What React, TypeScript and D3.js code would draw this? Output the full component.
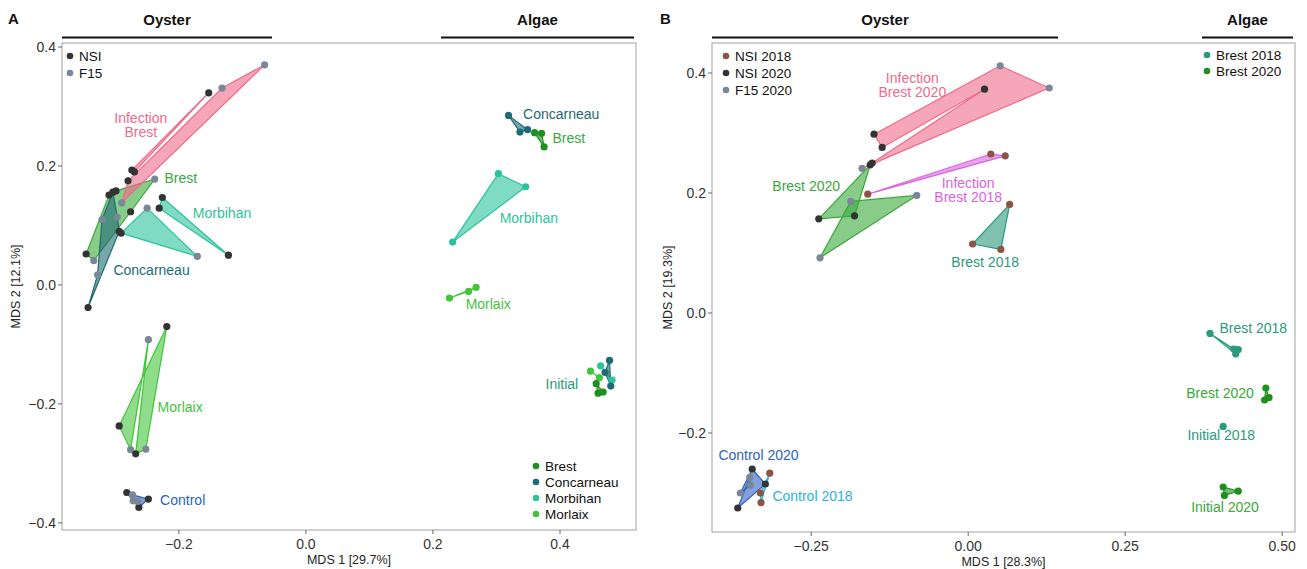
import React from "react";
import * as d3 from "d3";

// ---------- colours ----------
const C = {
  infection: "#f06a8a",
  infection18: "#d963e0",
  brest: "#3aa83a",
  brestAlgae: "#1f901f",
  brest18: "#2a9a7c",
  concarneau: "#1e6b73",
  morbihan: "#2cc39c",
  morlaix: "#44c43c",
  control: "#2e5fc0",
  control18: "#29b3dd",
  NSI: "#333333",
  F15: "#7a8896",
  NSI18: "#8a5545",
};

// ---------- Panel A data: [MDS1, MDS2, point type] ----------
const aInfectionBrest1 = [[-0.274, 0.193, "NSI"], [-0.153, 0.323, "NSI"], [-0.27, 0.19, "NSI"]];
const aInfectionBrest2 = [
  [-0.28, 0.175, "NSI"], [-0.132, 0.331, "F15"], [-0.065, 0.37, "F15"], [-0.29, 0.138, "F15"],
];
const aBrestOyster = [
  [-0.238, 0.178, "F15"], [-0.299, 0.158, "NSI"], [-0.31, 0.151, "NSI"],
  [-0.346, 0.052, "NSI"], [-0.334, 0.041, "F15"], [-0.276, 0.123, "NSI"],
];
const aConcarneauOyster = [
  [-0.343, -0.038, "NSI"], [-0.328, 0.017, "F15"], [-0.321, 0.11, "F15"],
  [-0.304, 0.156, "NSI"], [-0.297, 0.114, "F15"], [-0.294, 0.09, "NSI"],
];
const aMorbihanOyster1 = [[-0.25, 0.129, "F15"], [-0.171, 0.048, "F15"], [-0.291, 0.087, "NSI"]];
const aMorbihanOyster2 = [[-0.226, 0.147, "NSI"], [-0.231, 0.129, "NSI"], [-0.122, 0.05, "NSI"]];
const aMorlaixOyster = [
  [-0.219, -0.07, "NSI"], [-0.294, -0.237, "NSI"], [-0.276, -0.277, "F15"],
  [-0.248, -0.092, "F15"], [-0.268, -0.284, "NSI"], [-0.252, -0.276, "F15"],
];
const aControl = [
  [-0.282, -0.349, "NSI"], [-0.273, -0.353, "F15"], [-0.248, -0.36, "NSI"],
  [-0.263, -0.374, "NSI"], [-0.265, -0.364, "F15"], [-0.272, -0.363, "F15"],
];
const aConcarneauAlgae = [[0.319, 0.285, ""], [0.337, 0.257, ""], [0.349, 0.261, ""]];
const aBrestAlgae = [[0.36, 0.256, ""], [0.371, 0.255, ""], [0.375, 0.232, ""]];
const aMorbihanAlgae = [[0.303, 0.187, ""], [0.346, 0.165, ""], [0.231, 0.072, ""]];
const aMorlaixAlgae = [[0.226, -0.022, ""], [0.256, -0.011, ""], [0.268, -0.004, ""]];
const aInitConcarneau = [[0.478, -0.127, ""], [0.471, -0.147, ""], [0.48, -0.17, ""]];
const aInitMorbihan = [[0.464, -0.136, ""], [0.482, -0.16, ""]];
const aInitMorlaix = [[0.448, -0.145, ""], [0.462, -0.156, ""]];
const aInitBrest = [[0.457, -0.166, ""], [0.46, -0.182, ""], [0.468, -0.18, ""]];

// ---------- Panel B data ----------
const bInfection2020 = [
  [-0.15, 0.298, "NSI"], [0.051, 0.412, "F15"], [0.129, 0.375, "F15"],
  [-0.169, 0.241, "F15"], [-0.153, 0.25, "NSI"], [0.026, 0.373, "NSI"], [-0.137, 0.276, "NSI"],
];
const bInfection2018 = [[-0.16, 0.198, "NSI18"], [0.036, 0.265, "NSI18"], [0.059, 0.262, "NSI18"]];
const bBrest2020a = [[-0.238, 0.157, "NSI"], [-0.156, 0.247, "NSI"], [-0.181, 0.162, "NSI"]];
const bBrest2020b = [[-0.187, 0.186, "F15"], [-0.082, 0.196, "F15"], [-0.236, 0.092, "F15"]];
const bBrest2018 = [[0.066, 0.181, "NSI18"], [0.007, 0.115, "NSI18"], [0.052, 0.106, "NSI18"]];
const bControl2020 = [
  [-0.344, -0.26, "NSI"], [-0.323, -0.285, "NSI"], [-0.367, -0.325, "NSI"],
  [-0.348, -0.274, "F15"], [-0.347, -0.287, "F15"], [-0.363, -0.3, "F15"],
];
const bControl2018 = [[-0.316, -0.267, "NSI18"], [-0.331, -0.3, "NSI18"], [-0.33, -0.316, "NSI18"]];
const bBrest2018Algae = [[0.385, -0.034, ""], [0.423, -0.06, ""], [0.43, -0.061, ""], [0.426, -0.068, ""]];
const bBrest2020Algae = [[0.474, -0.125, ""], [0.479, -0.141, ""], [0.472, -0.145, ""]];
const bInitial2018 = [[0.406, -0.189, ""]];
const bInitial2020 = [[0.406, -0.29, ""], [0.43, -0.297, ""], [0.408, -0.304, ""]];

// ---------- labels: [text, x, y, colour] ----------
const aLabels = [
  ["Infection", -0.26, 0.281, C.infection], ["Brest", -0.26, 0.257, C.infection],
  ["Brest", -0.197, 0.18, C.brest], ["Morbihan", -0.132, 0.121, C.morbihan],
  ["Concarneau", -0.243, 0.025, C.concarneau], ["Morlaix", -0.198, -0.205, C.morlaix],
  ["Control", -0.194, -0.361, C.control], ["Concarneau", 0.402, 0.287, C.concarneau],
  ["Brest", 0.414, 0.247, C.brest], ["Morbihan", 0.351, 0.113, C.morbihan],
  ["Morlaix", 0.287, -0.032, C.morlaix], ["Initial", 0.403, -0.166, C.brest18],
];
const bLabels = [
  ["Infection", -0.089, 0.392, C.infection], ["Brest 2020", -0.089, 0.368, C.infection],
  ["Infection", 0.0, 0.217, C.infection18], ["Brest 2018", 0.0, 0.193, C.infection18],
  ["Brest 2020", -0.258, 0.212, C.brest], ["Brest 2018", 0.027, 0.085, C.brest18],
  ["Control 2020", -0.334, -0.237, C.control], ["Control 2018", -0.248, -0.305, C.control18],
  ["Brest 2018", 0.454, -0.025, C.brest18], ["Brest 2020", 0.401, -0.133, C.brest],
  ["Initial 2018", 0.403, -0.203, C.brest18], ["Initial 2020", 0.409, -0.323, C.brest],
];

const aXTicks = [-0.2, 0.0, 0.2, 0.4];
const aYTicks = [-0.4, -0.2, 0.0, 0.2, 0.4];
const bXTicks = [-0.25, 0.0, 0.25, 0.5];
const bYTicks = [-0.2, 0.0, 0.2, 0.4];

const aTypeLegend = [["NSI", C.NSI], ["F15", C.F15]];
const aSiteLegend = [["Brest", C.brestAlgae], ["Concarneau", C.concarneau], ["Morbihan", C.morbihan], ["Morlaix", C.morlaix]];
const bTypeLegend = [["NSI 2018", C.NSI18], ["NSI 2020", C.NSI], ["F15 2020", C.F15]];
const bSiteLegend = [["Brest 2018", C.brest18], ["Brest 2020", C.brestAlgae]];

type Pt = (number | string)[];
type Group = { pts: Pt[]; color: string };

const aGroups: Group[] = [
  { pts: aBrestOyster, color: C.brest },
  { pts: aConcarneauOyster, color: C.concarneau },
  { pts: aMorbihanOyster1, color: C.morbihan },
  { pts: aMorbihanOyster2, color: C.morbihan },
  { pts: aMorlaixOyster, color: C.morlaix },
  { pts: aInfectionBrest1, color: C.infection },
  { pts: aInfectionBrest2, color: C.infection },
  { pts: aControl, color: C.control },
  { pts: aConcarneauAlgae, color: C.concarneau },
  { pts: aBrestAlgae, color: C.brestAlgae },
  { pts: aMorbihanAlgae, color: C.morbihan },
  { pts: aMorlaixAlgae, color: C.morlaix },
  { pts: aInitMorbihan, color: C.morbihan },
  { pts: aInitConcarneau, color: C.concarneau },
  { pts: aInitMorlaix, color: C.morlaix },
  { pts: aInitBrest, color: C.brestAlgae },
];
const bGroups: Group[] = [
  { pts: bBrest2020a, color: C.brest },
  { pts: bBrest2020b, color: C.brest },
  { pts: bInfection2020, color: C.infection },
  { pts: bInfection2018, color: C.infection18 },
  { pts: bBrest2018, color: C.brest18 },
  { pts: bControl2020, color: C.control },
  { pts: bControl2018, color: C.control18 },
  { pts: bBrest2018Algae, color: C.brest18 },
  { pts: bBrest2020Algae, color: C.brestAlgae },
  { pts: bInitial2018, color: C.brest18 },
  { pts: bInitial2020, color: C.brestAlgae },
];

const FONT = "'Liberation Sans', Arial, sans-serif";
const NARROW = "'Liberation Sans Narrow', 'Liberation Sans', Arial, sans-serif";

type PanelProps = {
  letter: string; letterX: number;
  x: d3.ScaleLinear<number, number>; y: d3.ScaleLinear<number, number>;
  xTicks: number[]; yTicks: number[]; xFmt: (v: number) => string;
  xTitle: string; yTitle: string;
  groups: Group[]; labels: (string | number)[][];
  headers: { text: string; x0: number; x1: number }[];
  typeLegend: string[][]; typeLegendX: number;
  siteLegend: string[][]; siteLegendX: number; siteLegendY: number;
  yTitleX: number;
};

function Panel(p: PanelProps) {
  const [x0, x1] = p.x.range();
  const [y1, y0] = p.y.range();
  const line = d3.line<Pt>().x((d) => p.x(d[0] as number)).y((d) => p.y(d[1] as number));
  const yFmt = d3.format(".1f");
  const ptCol = (g: Group, d: Pt) => (d[2] === "" ? g.color : (C as any)[d[2] as string]);
  return (
    <g>
      <text x={p.letterX} y={24} fontFamily={FONT} fontWeight="bold" fontSize={15} fill="#111">{p.letter}</text>
      {p.headers.map((h, i) => (
        <g key={i}>
          <text x={(h.x0 + h.x1) / 2} y={25} textAnchor="middle" fontFamily={NARROW} fontWeight="bold" fontSize={15} fill="#111">{h.text}</text>
          <line x1={h.x0} x2={h.x1} y1={37.5} y2={37.5} stroke="#111" strokeWidth={2} />
        </g>
      ))}
      <rect x={x0} y={y0} width={x1 - x0} height={y1 - y0} fill="white" stroke="#a0a0a0" strokeWidth={1} />
      {p.xTicks.map((t) => (
        <g key={t}>
          <line x1={p.x(t)} x2={p.x(t)} y1={y1} y2={y1 + 4} stroke="#666" />
          <text x={p.x(t)} y={y1 + 19} textAnchor="middle" fontFamily={NARROW} fontSize={14} fill="#333">{p.xFmt(t)}</text>
        </g>
      ))}
      {p.yTicks.map((t) => (
        <g key={t}>
          <line x1={x0 - 4} x2={x0} y1={p.y(t)} y2={p.y(t)} stroke="#666" />
          <text x={x0 - 6} y={p.y(t)} dy="0.35em" textAnchor="end" fontFamily={NARROW} fontSize={14} fill="#333">{yFmt(t)}</text>
        </g>
      ))}
      <text x={(x0 + x1) / 2} y={y1 + 34} textAnchor="middle" fontFamily={NARROW} fontSize={12.5} fill="#222">{p.xTitle}</text>
      <text transform={`translate(${p.yTitleX},${(y0 + y1) / 2}) rotate(-90)`} textAnchor="middle" fontFamily={NARROW} fontSize={12.5} fill="#222">{p.yTitle}</text>
      {p.groups.map((g, i) =>
        g.pts.length > 1 ? (
          <path key={i} d={line(g.pts) + "Z"} fill={g.color} fillOpacity={0.6} stroke={g.color} strokeWidth={1.2} strokeLinejoin="round" />
        ) : null
      )}
      {p.groups.map((g, i) =>
        g.pts.map((d, j) => (
          <circle key={i + "-" + j} cx={p.x(d[0] as number)} cy={p.y(d[1] as number)} r={3.6} fill={ptCol(g, d)} />
        ))
      )}
      {p.labels.map((l, i) => (
        <text key={i} x={p.x(l[1] as number)} y={p.y(l[2] as number)} dy="0.35em" textAnchor="middle" fontFamily={FONT} fontSize={14} fill={l[3] as string}>{l[0]}</text>
      ))}
      {p.typeLegend.map((l, i) => (
        <g key={i}>
          <circle cx={p.typeLegendX} cy={56 + i * 17} r={3.3} fill={l[1]} />
          <text x={p.typeLegendX + 9} y={56 + i * 17} dy="0.35em" fontFamily={FONT} fontSize={13.5} fill="#111">{l[0]}</text>
        </g>
      ))}
      {p.siteLegend.map((l, i) => (
        <g key={i}>
          <circle cx={p.siteLegendX} cy={p.siteLegendY + i * 16} r={3.3} fill={l[1]} />
          <text x={p.siteLegendX + 9} y={p.siteLegendY + i * 16} dy="0.35em" fontFamily={FONT} fontSize={13.5} fill="#111">{l[0]}</text>
        </g>
      ))}
    </g>
  );
}

export default function App() {
  const xA = d3.scaleLinear().domain([-0.384, 0.5197]).range([62, 636]);
  const yA = d3.scaleLinear().domain([-0.412, 0.4067]).range([530, 43]);
  const xB = d3.scaleLinear().domain([-0.408, 0.5204]).range([712, 1295]);
  const yB = d3.scaleLinear().domain([-0.365, 0.45]).range([532, 43]);
  return (
    <svg width={1307} height={569} style={{ position: "absolute", left: 0, top: 0, background: "white" }}>
      <rect width={1307} height={569} fill="white" />
      <Panel letter="A" letterX={8} x={xA} y={yA} xTicks={aXTicks} yTicks={aYTicks} xFmt={d3.format(".1f")}
        xTitle="MDS 1 [29.7%]" yTitle="MDS 2 [12.1%]" groups={aGroups} labels={aLabels}
        headers={[{ text: "Oyster", x0: 62, x1: 272 }, { text: "Algae", x0: 441, x1: 634 }]}
        typeLegend={aTypeLegend} typeLegendX={70} siteLegend={aSiteLegend} siteLegendX={536} siteLegendY={466} yTitleX={20} />
      <Panel letter="B" letterX={660} x={xB} y={yB} xTicks={bXTicks} yTicks={bYTicks} xFmt={d3.format(".2f")}
        xTitle="MDS 1 [28.3%]" yTitle="MDS 2 [19.3%]" groups={bGroups} labels={bLabels}
        headers={[{ text: "Oyster", x0: 712, x1: 1058 }, { text: "Algae", x0: 1202, x1: 1293 }]}
        typeLegend={bTypeLegend} typeLegendX={726} siteLegend={bSiteLegend} siteLegendX={1207} siteLegendY={55} yTitleX={672} />
    </svg>
  );
}
